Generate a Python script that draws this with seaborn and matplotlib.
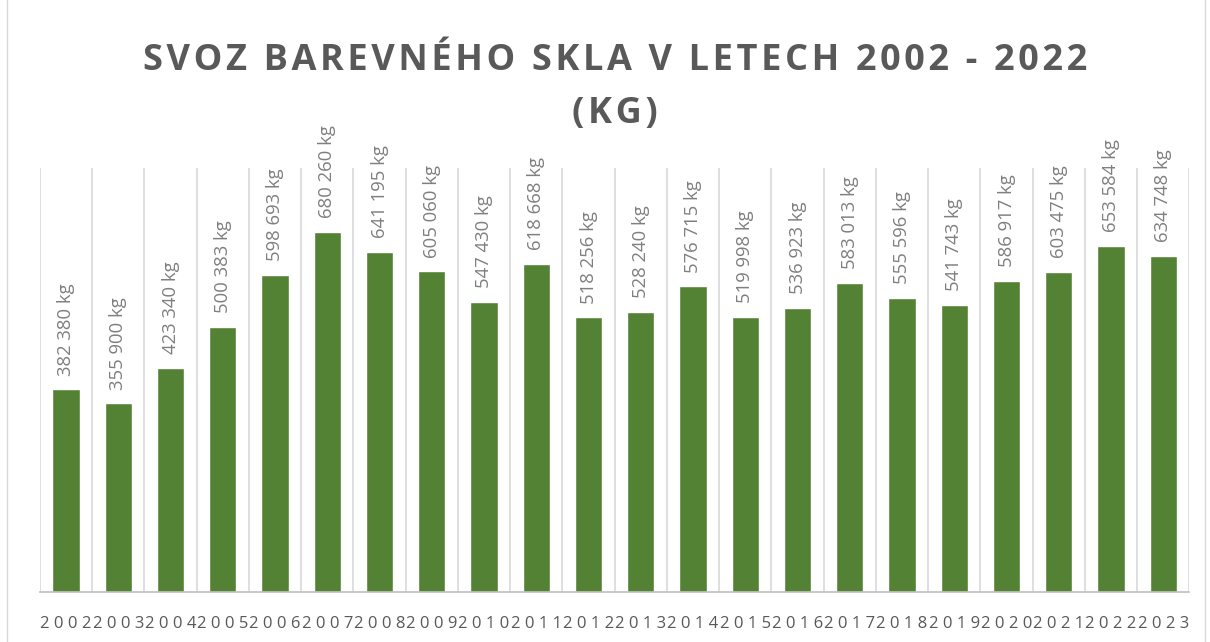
import matplotlib
matplotlib.use("Agg")
import matplotlib.pyplot as plt
import seaborn as sns
import pandas as pd
from matplotlib.patches import Rectangle

years = [str(y) for y in range(2002, 2024)]
values = [382380, 355900, 423340, 500383, 598693, 680260, 641195, 605060,
          547430, 618668, 518256, 528240, 576715, 519998, 536923, 583013,
          555596, 541743, 586917, 603475, 653584, 634748]
title_lines = ["SVOZ BAREVNÉHO SKLA V LETECH 2002 - 2022", "(KG)"]

df = pd.DataFrame({"rok": years, "kg": values})

sns.set_theme(style="white")
plt.rcParams["font.family"] = ["Open Sans", "DejaVu Sans"]

fig = plt.figure(figsize=(12.1, 6.42), dpi=100)
ax = fig.add_axes([0.033, 0.078, 0.95, 0.66])

sns.barplot(data=df, x="rok", y="kg", color="#548235", width=0.52,
            saturation=1, ax=ax)

ax.set_ylim(0, 800000)
ax.set_xlim(-0.5, len(years) - 0.5)

# vertical gridlines between categories
for i in range(len(years) + 1):
    ax.axvline(i - 0.5, color="#d9d9d9", lw=1.2, zorder=0)

for i, v in enumerate(values):
    lbl = f"{v:,}".replace(",", " ") + " kg"
    ax.annotate(lbl, (i, v), xytext=(0, 10), textcoords="offset points",
                rotation=90, ha="center", va="bottom",
                fontsize=13.3, color="#7f7f7f")

ax.set_yticks([])
ax.set_xlabel("")
ax.set_ylabel("")
ax.set_xticks(range(len(years)))
ax.set_xticklabels([" ".join(y) for y in years], fontsize=12, color="#595959")
ax.tick_params(axis="x", length=0, pad=17)
for s in ["top", "left", "right"]:
    ax.spines[s].set_visible(False)
ax.spines["bottom"].set_color("#bfbfbf")
ax.spines["bottom"].set_linewidth(1.2)

# letter-spaced title (hair spaces between characters), one text per line
for line, ypos in zip(title_lines, [0.905, 0.823]):
    fig.text(0.508, ypos, "\u200a".join(line), ha="center", va="center",
             fontsize=26, fontweight="bold", color="#595959")

fig.patches.append(Rectangle((0.006, -0.01), 0.99, 1.02, transform=fig.transFigure,
                             fill=False, edgecolor="#d9d9d9", lw=1))

fig.savefig("out.png", dpi=100)
